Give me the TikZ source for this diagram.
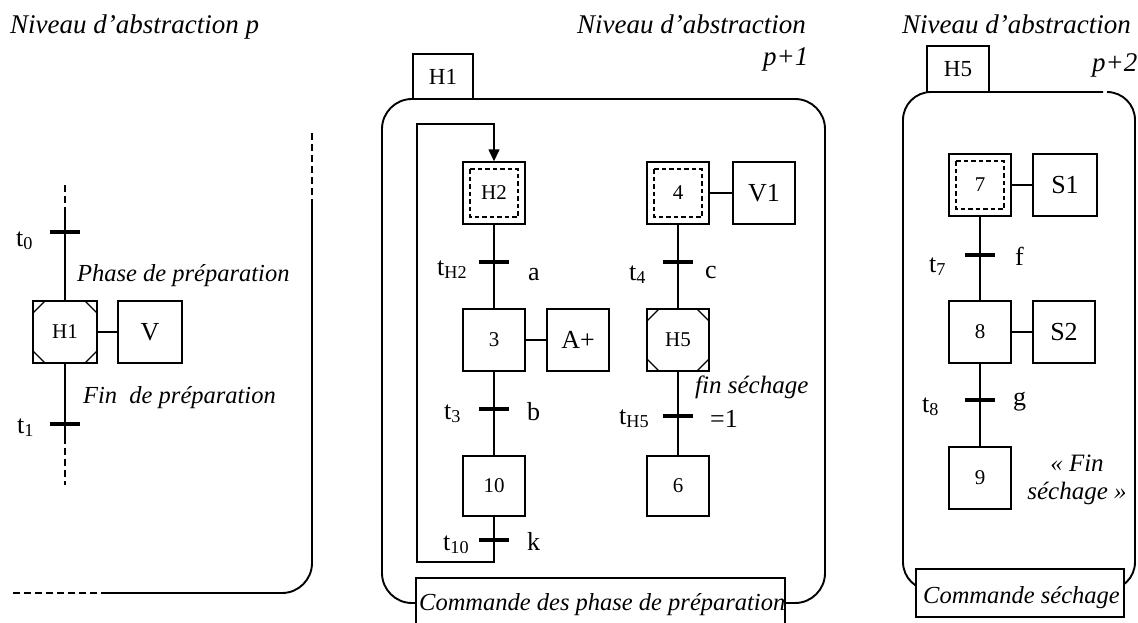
\documentclass[tikz,border=0pt]{standalone}
\usepackage{fontspec}
\setmainfont{Liberation Serif}
\usetikzlibrary{arrows.meta}
\newcommand{\fsz}[1]{\fontsize{#1}{#1}\selectfont}
\begin{document}
\begin{tikzpicture}[x=1pt,y=-1pt,
  link/.style={line width=1.4pt},
  frame/.style={line width=1.9pt},
  dashline/.style={dash pattern=on 7pt off 4pt},
  bar/.style={line width=4.2pt},
  stepbox/.style={draw, line width=1.4pt, fill=white, minimum width=62pt,
    minimum height=62pt, inner sep=0pt, font=\fsz{21}},
  actbox/.style={stepbox, font=\fsz{26}},
  tabbox/.style={draw, line width=1.4pt, fill=white, minimum width=60pt,
    minimum height=45pt, inner sep=0pt, font=\fsz{23}},
  macro/.style={path picture={
    \draw[line width=1.3pt]
      ([yshift=-12pt]path picture bounding box.north west) -- ([xshift=12pt]path picture bounding box.north west)
      ([yshift=-12pt]path picture bounding box.north east) -- ([xshift=-12pt]path picture bounding box.north east)
      ([yshift=12pt]path picture bounding box.south west) -- ([xshift=12pt]path picture bounding box.south west)
      ([yshift=12pt]path picture bounding box.south east) -- ([xshift=-12pt]path picture bounding box.south east);
  }},
  entry/.style={path picture={
    \draw[line width=1.3pt, dash pattern=on 4.5pt off 3pt]
      ([shift={(7pt,-7pt)}]path picture bounding box.north west) rectangle
      ([shift={(-7pt,7pt)}]path picture bounding box.south east);
  }},
  note/.style={font=\fsz{24.5}\itshape, inner sep=0pt, anchor=base west},
  head/.style={font=\fsz{27}\itshape, inner sep=0pt, anchor=base west},
  tlab/.style={font=\fsz{26}, inner sep=0pt, anchor=base west},
  cond/.style={font=\fsz{26}, inner sep=0pt, anchor=base west},
]
\useasboundingbox (0,0) rectangle (1138,622);

% ---------------- level p ----------------
\node[head] (hdrP) at (10,33) {Niveau d’abstraction p};

\node[stepbox, macro, minimum width=64pt] (H1L) at (65,332) {H1};
\node[actbox, minimum width=64pt] (actV) at (150,332) {V};
\draw[link] (H1L) -- (actV);

\coordinate (inTop) at (65,185);
\coordinate (inSolid) at (65,213);
\coordinate (t0) at (65,232);
\coordinate (t1) at (65,424);
\coordinate (outSolid) at (65,437);
\coordinate (outEnd) at (65,485);
\draw[link, dashline] (inTop) -- (inSolid);
\draw[link] (inSolid) -- (t0) -- (H1L) -- (t1) -- (outSolid);
\draw[link, dashline] (outSolid) -- (outEnd);
\draw[bar] ([xshift=-15pt]t0) -- ([xshift=15pt]t0);
\draw[bar] ([xshift=-15pt]t1) -- ([xshift=15pt]t1);
\node[tlab] (lt0) at (16,246) {t\textsubscript{0}};
\node[tlab] (lt1) at (17,433) {t\textsubscript{1}};
\node[note] (phase) at (77,281) {Phase de préparation};
\node[note] (finprep) at (83,403) {Fin\enspace de préparation};

% boundary of level p
\coordinate (bA) at (312,133);
\coordinate (bB) at (312,200);
\coordinate (bC) at (312,593);
\coordinate (bD) at (108,593);
\coordinate (bE) at (12,593);
\draw[frame, dashline] (bA) -- (bB);
\draw[frame, rounded corners=30pt] (bB) -- (bC) -- (bD);
\draw[frame, dashline] (bD) -- (bE);

% ---------------- level p+1 ----------------
\node[head] (hdrP1) at (577,33) {Niveau d’abstraction};
\node[head] (hdrP1b) at (763,65) {p+1};
\draw[frame, rounded corners=30pt] (382,99) rectangle (825,603);
\node[tabbox] (tabH1) at (443,76.5) {H1};

\node[stepbox, macro, entry] (H2) at (494,193) {H2};
\node[stepbox] (S3) at (494,340) {3};
\node[actbox] (actA) at (578,340) {A+};
\node[stepbox, minimum height=60pt] (S10) at (494,486) {10};
\node[stepbox, entry] (S4) at (678,193) {4};
\node[actbox] (actV1) at (764,193) {V1};
\node[stepbox, macro] (H5) at (678,340) {H5};
\node[stepbox, minimum height=60pt] (S6) at (678,486) {6};
\draw[link] (S3) -- (actA);
\draw[link] (S4) -- (actV1);

\coordinate (tH2) at (494,262);
\coordinate (t3) at (494,409);
\coordinate (t10) at (494,540);
\coordinate (t4) at (678,262);
\coordinate (tH5) at (678,416);
\coordinate (loopA) at (494,562);
\coordinate (loopB) at (417,562);
\coordinate (loopC) at (417,124);
\coordinate (loopD) at (494,124);

\draw[link] (H2) -- (tH2) -- (S3) -- (t3) -- (S10);
\draw[link, -{Triangle[length=12pt,width=11pt]}]
  (S10) -- (t10) -- (loopA) -- (loopB) -- (loopC) -- (loopD) -- (H2);
\draw[link] (S4) -- (t4) -- (H5) -- (tH5) -- (S6);
\foreach \t in {tH2,t3,t10,t4,tH5}
  \draw[bar] ([xshift=-15pt]\t) -- ([xshift=15pt]\t);

\node[tlab] (ltH2) at (437,275) {t\textsubscript{H2}};
\node[cond] (ca) at (528,280) {a};
\node[tlab] (lt3) at (444,419) {t\textsubscript{3}};
\node[cond] (cb) at (527,420) {b};
\node[tlab] (lt10) at (443,550) {t\textsubscript{10}};
\node[cond] (ck) at (527,550) {k};
\node[tlab] (lt4) at (629,280) {t\textsubscript{4}};
\node[cond] (cc) at (705,278) {c};
\node[tlab] (ltH5) at (619,424) {t\textsubscript{H5}};
\node[cond] (cone) at (710,427) {=1};
\node[note, font=\fsz{25}\itshape] (finsech) at (695,393) {fin séchage};

\draw[link, fill=white] (416,578) rectangle (785,640);
\node[note] (cmdP) at (419,610) {Commande des phase de préparation};

% ---------------- level p+2 ----------------
\node[head] (hdrP2) at (902,33) {Niveau d’abstraction};
\node[head] (hdrP2b) at (1092,71) {p+2};
\draw[frame, rounded corners=28pt]
  (1103,92) -- (903,92) -- (903,590) -- (1135,590) -- (1135,92) -- (1107,92);
\node[tabbox, minimum width=62pt, minimum height=46pt] (tabH5) at (958,69) {H5};

\node[stepbox, entry] (S7) at (980,185) {7};
\node[actbox, minimum width=64pt] (actS1) at (1065,185) {S1};
\node[stepbox] (S8) at (980,332) {8};
\node[actbox] (actS2) at (1064,332) {S2};
\node[stepbox] (S9) at (980,478) {9};
\draw[link] (S7) -- (actS1);
\draw[link] (S8) -- (actS2);

\coordinate (t7) at (980,255);
\coordinate (t8) at (980,400);
\draw[link] (S7) -- (t7) -- (S8) -- (t8) -- (S9);
\draw[bar] ([xshift=-15pt]t7) -- ([xshift=15pt]t7);
\draw[bar] ([xshift=-15pt]t8) -- ([xshift=15pt]t8);
\node[tlab] (lt7) at (929,272) {t\textsubscript{7}};
\node[cond] (cf) at (1015,265) {f};
\node[tlab] (lt8) at (922,412) {t\textsubscript{8}};
\node[cond] (cg) at (1013,405) {g};
\node[font=\fsz{25}\itshape, inner sep=0pt, align=center] (finS) at (1077,480)
  {« Fin\\[3pt]séchage »};

\draw[link, fill=white] (916,569) rectangle (1124,617);
\node[note] (cmdS) at (923,603) {Commande séchage};
\end{tikzpicture}
\end{document}
